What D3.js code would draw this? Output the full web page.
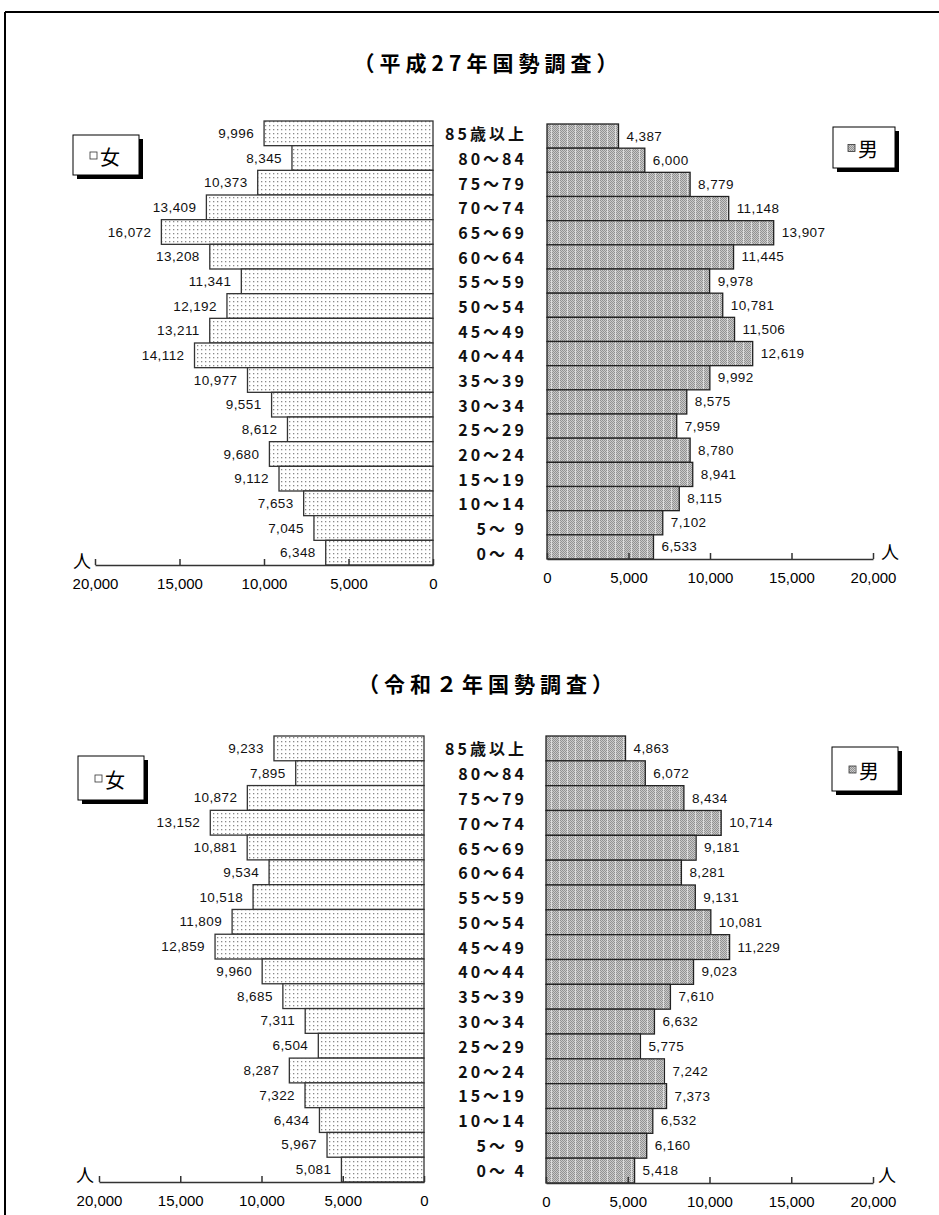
<!DOCTYPE html>
<html lang="ja">
<head>
<meta charset="UTF-8">
<title>人口ピラミッド</title>
<style>
  body { margin: 0; background: #fff; }
  svg { display: block; }
  .title { font-family: "Noto Sans CJK JP", sans-serif; font-size: 21px; font-weight: bold; letter-spacing: 5px; fill: #000; }
  .age { font-family: "Noto Sans CJK JP", sans-serif; font-size: 16px; font-weight: bold; letter-spacing: 3px; fill: #111; }
  .val { font-family: "Liberation Sans", Arial, sans-serif; font-size: 13.5px; letter-spacing: 0.4px; fill: #111; }
  .axis text { font-family: "Liberation Sans", Arial, sans-serif; font-size: 15px; fill: #000; }
  .axis path, .axis line { stroke: #333; stroke-width: 1.5; }
  .unit { font-family: "Noto Sans CJK JP", sans-serif; font-size: 18px; fill: #000; }
  .legend { font-family: "Noto Sans CJK JP", sans-serif; font-size: 20px; fill: #000; }
</style>
</head>
<body>
<svg width="939" height="1215"></svg>
<script src="https://d3js.org/d3.v7.min.js"></script>
<script>

var ages = ["85歳以上", "80～84", "75～79", "70～74", "65～69", "60～64", "55～59",
            "50～54", "45～49", "40～44", "35～39", "30～34", "25～29", "20～24",
            "15～19", "10～14", "5～ 9", "0～ 4"];

var femaleH27 = [9996, 8345, 10373, 13409, 16072, 13208, 11341, 12192, 13211, 14112,
                 10977, 9551, 8612, 9680, 9112, 7653, 7045, 6348];
var maleH27 = [4387, 6000, 8779, 11148, 13907, 11445, 9978, 10781, 11506, 12619,
               9992, 8575, 7959, 8780, 8941, 8115, 7102, 6533];

var femaleR2 = [9233, 7895, 10872, 13152, 10881, 9534, 10518, 11809, 12859, 9960,
                8685, 7311, 6504, 8287, 7322, 6434, 5967, 5081];
var maleR2 = [4863, 6072, 8434, 10714, 9181, 8281, 9131, 10081, 11229, 9023,
              7610, 6632, 5775, 7242, 7373, 6532, 6160, 5418];

var axisTicks = [0, 5000, 10000, 15000, 20000];
var axisMax = 20000;

var titles = ["（平成27年国勢調査）", "（令和２年国勢調査）"];

var svg = d3.select("svg");
var fmt = d3.format(",");

// patterns
var defs = svg.append("defs");
var pf = defs.append("pattern").attr("id", "patF")
    .attr("width", 4).attr("height", 4).attr("patternUnits", "userSpaceOnUse");
pf.append("rect").attr("width", 4).attr("height", 4).attr("fill", "#fff");
pf.append("rect").attr("x", 1).attr("y", 1).attr("width", 1.3).attr("height", 1.3).attr("fill", "#8a8a8a");

var pm = defs.append("pattern").attr("id", "patM")
    .attr("width", 8).attr("height", 2).attr("patternUnits", "userSpaceOnUse");
pm.append("rect").attr("width", 8).attr("height", 2).attr("fill", "#c9c9c9");
for (var i = 0; i < 7; i++) {
    pm.append("rect").attr("x", i).attr("y", i % 2).attr("width", 1).attr("height", 1).attr("fill", "#929292");
}
pm.append("rect").attr("x", 7).attr("y", 0).attr("width", 1).attr("height", 2).attr("fill", "#dcdcdc");

// outer frame
svg.append("line").attr("x1", 5).attr("y1", 12).attr("x2", 939).attr("y2", 12)
    .attr("stroke", "#000").attr("stroke-width", 2);
svg.append("line").attr("x1", 5).attr("y1", 12).attr("x2", 5).attr("y2", 1215)
    .attr("stroke", "#000").attr("stroke-width", 2);

var panels = [
    {title: titles[0], titleY: 62, female: femaleH27, male: maleH27,
     f: {x0: 433, x1: 95, top: 121, bottom: 565},
     m: {x0: 547, x1: 873, top: 124, bottom: 559},
     fBox: {x: 73, y: 135, w: 66, h: 40}, mBox: {x: 833, y: 127, w: 62, h: 41},
     fUnit: [82, 560], mUnit: [890, 551]},
    {title: titles[1], titleY: 683, female: femaleR2, male: maleR2,
     f: {x0: 424, x1: 99, top: 736, bottom: 1182},
     m: {x0: 546, x1: 873, top: 736, bottom: 1183},
     fBox: {x: 78, y: 756, w: 66, h: 44}, mBox: {x: 832, y: 747, w: 66, h: 44},
     fUnit: [85, 1174], mUnit: [887, 1174]}
];

function legendBox(g, b, label, fill) {
    g.append("rect").attr("x", b.x + 4).attr("y", b.y + 4).attr("width", b.w).attr("height", b.h)
        .attr("fill", "#000");
    g.append("rect").attr("x", b.x).attr("y", b.y).attr("width", b.w).attr("height", b.h)
        .attr("fill", "#fff").attr("stroke", "#000").attr("stroke-width", 1);
    var cx = b.x + b.w / 2, cy = b.y + b.h / 2;
    g.append("rect").attr("x", cx - 16).attr("y", cy - 3).attr("width", 7).attr("height", 7)
        .attr("fill", fill).attr("stroke", "#333").attr("stroke-width", 0.8);
    g.append("text").attr("class", "legend").attr("x", cx - 6).attr("y", cy + 1)
        .attr("dominant-baseline", "central").text(label);
}

panels.forEach(function(p) {
    var g = svg.append("g");

    g.append("text").attr("class", "title").attr("x", 488).attr("y", p.titleY)
        .attr("text-anchor", "middle").attr("dominant-baseline", "central").text(p.title);

    var xF = d3.scaleLinear().domain([0, axisMax]).range([p.f.x0, p.f.x1]);
    var xM = d3.scaleLinear().domain([0, axisMax]).range([p.m.x0, p.m.x1]);
    var yF = d3.scaleBand().domain(ages).range([p.f.top, p.f.bottom]).padding(0);
    var yM = d3.scaleBand().domain(ages).range([p.m.top, p.m.bottom]).padding(0);

    // female bars
    g.selectAll(".barF").data(p.female).enter().append("rect")
        .attr("x", function(d) { return xF(d); })
        .attr("y", function(d, i) { return yF(ages[i]); })
        .attr("width", function(d) { return p.f.x0 - xF(d); })
        .attr("height", yF.bandwidth())
        .attr("fill", "url(#patF)").attr("stroke", "#333").attr("stroke-width", 1.3);

    g.selectAll(".valF").data(p.female).enter().append("text").attr("class", "val")
        .attr("x", function(d) { return xF(d) - 10; })
        .attr("y", function(d, i) { return yF(ages[i]) + yF.bandwidth() / 2; })
        .attr("text-anchor", "end").attr("dominant-baseline", "central")
        .text(function(d) { return fmt(d); });

    // male bars
    g.selectAll(".barM").data(p.male).enter().append("rect")
        .attr("x", p.m.x0)
        .attr("y", function(d, i) { return yM(ages[i]); })
        .attr("width", function(d) { return xM(d) - p.m.x0; })
        .attr("height", yM.bandwidth())
        .attr("fill", "url(#patM)").attr("stroke", "#222").attr("stroke-width", 1.3);

    g.selectAll(".valM").data(p.male).enter().append("text").attr("class", "val")
        .attr("x", function(d) { return xM(d) + 8; })
        .attr("y", function(d, i) { return yM(ages[i]) + yM.bandwidth() / 2; })
        .attr("dominant-baseline", "central")
        .text(function(d) { return fmt(d); });

    // age labels
    g.selectAll(".age").data(ages).enter().append("text").attr("class", "age")
        .attr("x", 527)
        .attr("y", function(d) { return yF(d) + yF.bandwidth() / 2; })
        .attr("text-anchor", "end").attr("dominant-baseline", "central")
        .text(function(d) { return d; });

    // axes
    var axF = d3.axisBottom(xF).tickValues(axisTicks).tickFormat(fmt)
        .tickSizeInner(-6).tickSizeOuter(0).tickPadding(19);
    g.append("g").attr("class", "axis").attr("transform", "translate(0," + p.f.bottom + ")").call(axF)
        .selectAll("text").attr("dy", "0.35em");
    var axM = d3.axisBottom(xM).tickValues(axisTicks).tickFormat(fmt)
        .tickSizeInner(-6).tickSizeOuter(0).tickPadding(19);
    g.append("g").attr("class", "axis").attr("transform", "translate(0," + p.m.bottom + ")").call(axM)
        .selectAll("text").attr("dy", "0.35em");

    g.append("text").attr("class", "unit").attr("x", p.fUnit[0]).attr("y", p.fUnit[1])
        .attr("text-anchor", "middle").attr("dominant-baseline", "central").text("人");
    g.append("text").attr("class", "unit").attr("x", p.mUnit[0]).attr("y", p.mUnit[1])
        .attr("text-anchor", "middle").attr("dominant-baseline", "central").text("人");

    legendBox(g, p.fBox, "女", "#fff");
    legendBox(g, p.mBox, "男", "url(#patM)");
});

</script>
</body>
</html>
